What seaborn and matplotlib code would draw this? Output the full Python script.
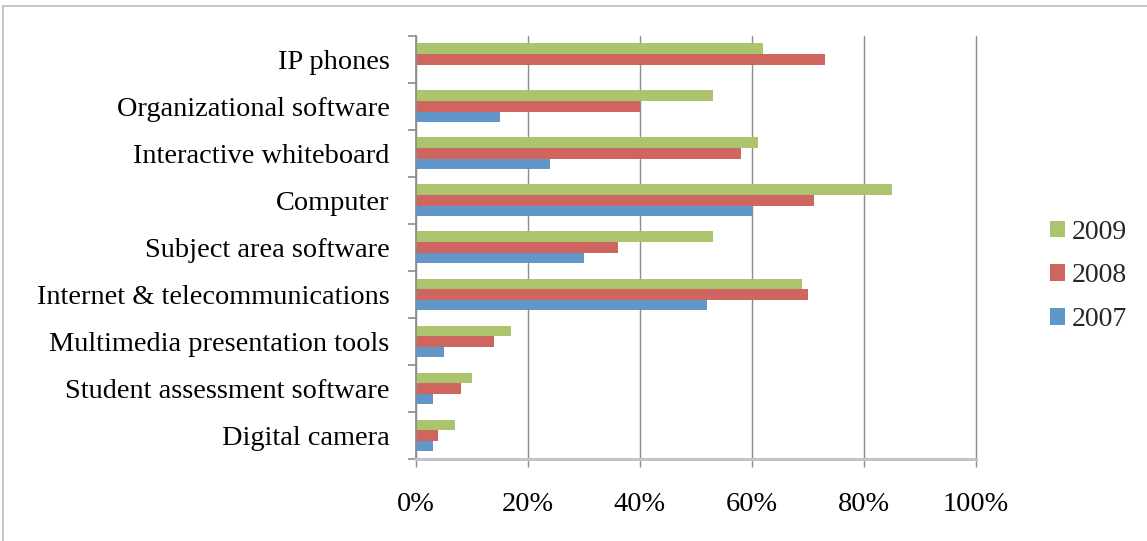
import matplotlib
matplotlib.use("Agg")
import matplotlib.pyplot as plt
from matplotlib.lines import Line2D
import pandas as pd
import seaborn as sns

categories = [
    "IP phones",
    "Organizational software",
    "Interactive whiteboard",
    "Computer",
    "Subject area software",
    "Internet & telecommunications",
    "Multimedia presentation tools",
    "Student assessment software",
    "Digital camera",
]
years = ["2009", "2008", "2007"]
values_2009 = [62, 53, 61, 85, 53, 69, 17, 10, 7]
values_2008 = [73, 40, 58, 71, 36, 70, 14, 8, 4]
values_2007 = [0, 15, 24, 60, 30, 52, 5, 3, 3]
x_ticks = [0, 20, 40, 60, 80, 100]
x_tick_labels = ["0%", "20%", "40%", "60%", "80%", "100%"]
colors = {"2009": "#ABC46D", "2008": "#CE665F", "2007": "#6196C9"}

series = {"2009": values_2009, "2008": values_2008, "2007": values_2007}
df = pd.DataFrame(
    [(c, y, v) for y in years for c, v in zip(categories, series[y])],
    columns=["category", "year", "value"],
)

sns.set_theme(style="white")
plt.rcParams["font.family"] = ["Liberation Serif", "DejaVu Serif"]

W, H = 1147, 541
fig = plt.figure(figsize=(W / 100, H / 100), dpi=100)
ax = fig.add_axes([416 / W, 1 - 459 / H, (976 - 416) / W, (459 - 35.7) / H])

sns.barplot(
    data=df, x="value", y="category", hue="year",
    order=categories, hue_order=years, palette=colors,
    width=0.675, saturation=1, orient="h", ax=ax, legend=True,
    linewidth=0,
)

ax.set_xlim(0, 100)
ax.set_ylim(len(categories) - 0.5, -0.5)
ax.set_xlabel("")
ax.set_ylabel("")

grid_col = "#8C8C8C"
ax.set_xticks(x_ticks)
ax.set_xticklabels(x_tick_labels, fontsize=20.4, color="black")
ax.xaxis.grid(True, color=grid_col, linewidth=1.0)
for gl in ax.get_xgridlines():
    gl.set_clip_on(False)
ax.set_axisbelow(True)
ax.tick_params(axis="x", length=5.5, width=1.0, color=grid_col, direction="out",
               pad=18.5, bottom=True)

ax.tick_params(axis="y", which="major", length=0, pad=19, labelsize=20.4,
               labelcolor="black")
ax.set_yticks([i - 0.5 for i in range(len(categories) + 1)], minor=True)
ax.tick_params(axis="y", which="minor", length=6, width=1.2, color=grid_col,
               direction="out", left=True)

for side in ["top", "right"]:
    ax.spines[side].set_visible(False)
ax.spines["left"].set_color(grid_col)
ax.spines["left"].set_linewidth(1.2)
ax.spines["bottom"].set_color("#C4C4C4")
ax.spines["bottom"].set_linewidth(2.2)

handles, labels = ax.get_legend_handles_labels()
ax.legend(
    handles, labels, loc="center left", bbox_to_anchor=(1050 / W, 1 - 276 / H),
    bbox_transform=fig.transFigure, frameon=False, fontsize=20,
    handlelength=0.54, handleheight=0.54, handletextpad=0.25, labelspacing=0.68,
    borderaxespad=0, borderpad=0,
)

# chart frame
frame_col = "#BDBDBD"
fig.add_artist(Line2D([3 / W, 1], [1 - 6 / H, 1 - 6 / H], color=frame_col,
                      linewidth=1.2, transform=fig.transFigure))
fig.add_artist(Line2D([3 / W, 3 / W], [0, 1 - 6 / H], color=frame_col,
                      linewidth=1.2, transform=fig.transFigure))

fig.savefig("out.png", dpi=100, facecolor="white")
